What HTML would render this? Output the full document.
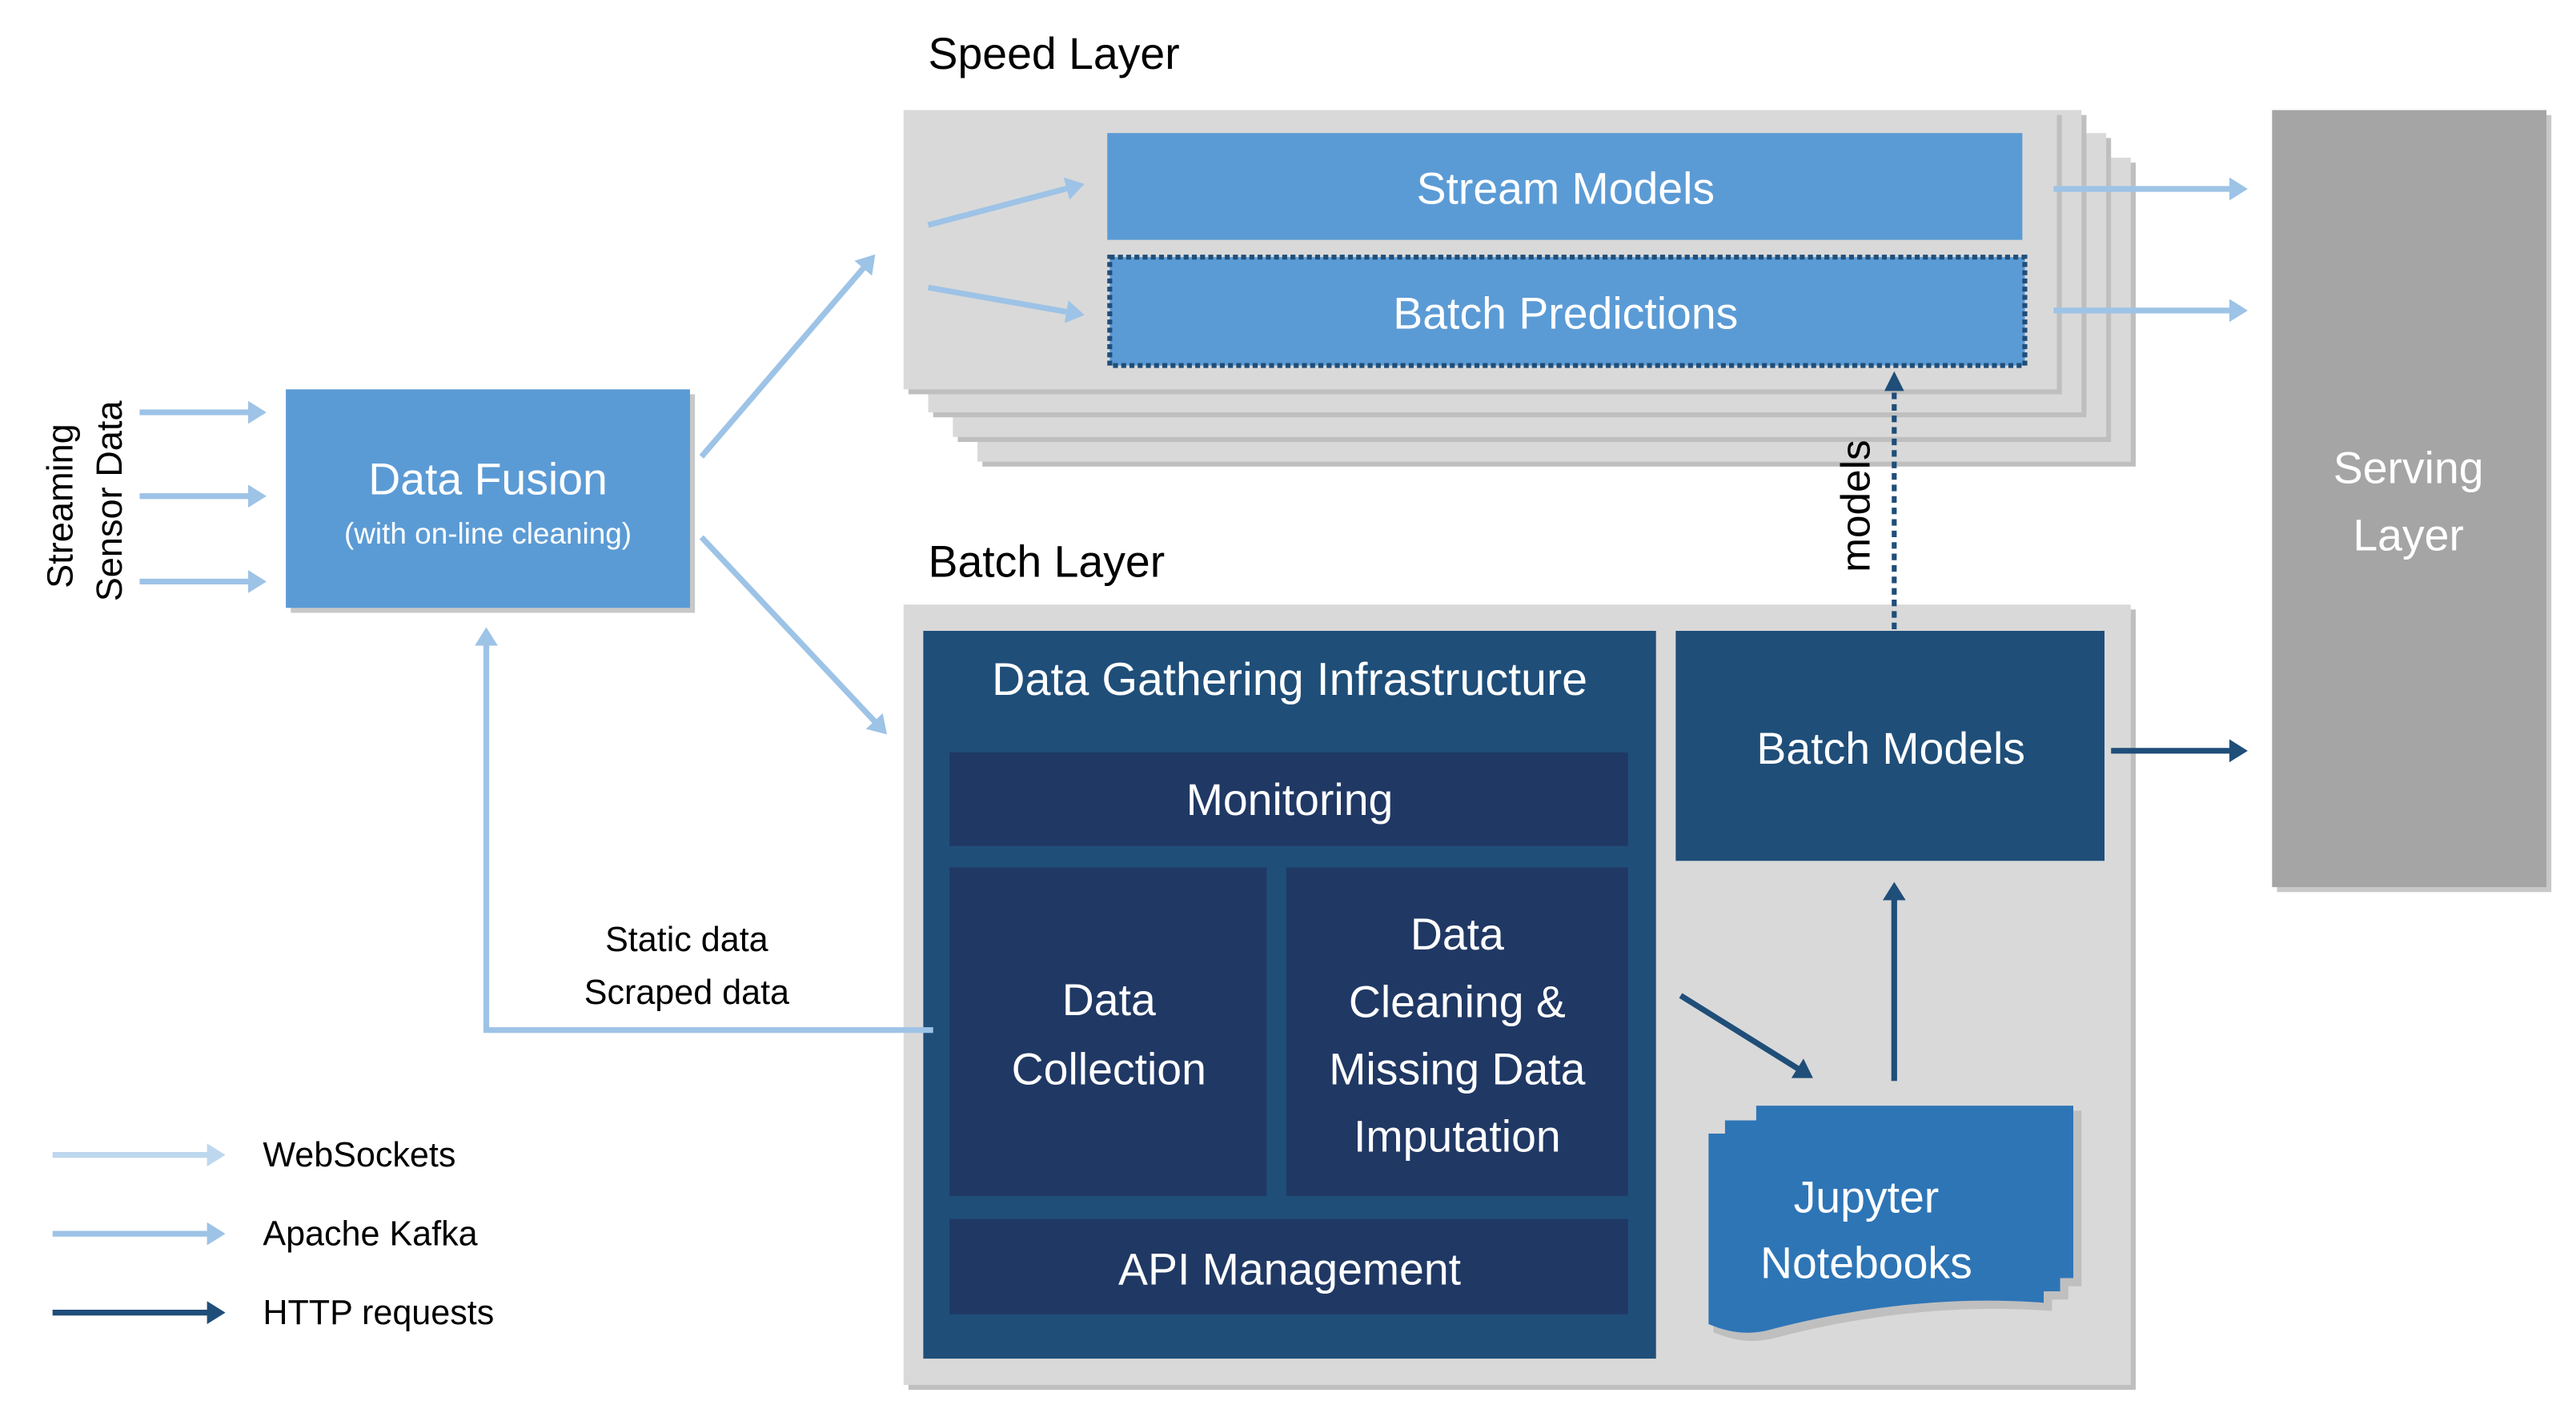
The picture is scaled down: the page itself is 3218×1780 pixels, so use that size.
<!DOCTYPE html>
<html><head><meta charset="utf-8"><style>
html,body{margin:0;padding:0;background:#fff;}
svg{display:block;}
text{font-family:"Liberation Sans",sans-serif;}
</style></head><body>
<svg width="3218" height="1780" viewBox="0 0 1568 867.4" preserveAspectRatio="none" xmlns="http://www.w3.org/2000/svg">
<defs>
<marker id="al" markerWidth="4" markerHeight="4" refX="2" refY="2" orient="auto" markerUnits="strokeWidth"><path d="M0,0 L3.2,2 L0,4 z" fill="#9dc3e6"/></marker>
<marker id="al2" markerWidth="4" markerHeight="4" refX="2" refY="2" orient="auto" markerUnits="strokeWidth"><path d="M0,0 L3.2,2 L0,4 z" fill="#bdd7ee"/></marker>
<marker id="ad" markerWidth="4" markerHeight="4" refX="2" refY="2" orient="auto" markerUnits="strokeWidth"><path d="M0,0 L3.2,2 L0,4 z" fill="#1f4e79"/></marker>
</defs>

<!-- Speed layer -->
<text x="565" y="42" font-size="27" fill="#000">Speed Layer</text>
<rect x="598" y="99" width="702" height="185" fill="#bfbfbf"/>
<rect x="595" y="96" width="702" height="185" fill="#d9d9d9"/>
<rect x="583" y="84" width="702" height="185" fill="#bfbfbf"/>
<rect x="580" y="81" width="702" height="185" fill="#d9d9d9"/>
<rect x="568" y="70" width="702" height="184" fill="#bfbfbf"/>
<rect x="565" y="67" width="702" height="184" fill="#d9d9d9"/>
<rect x="553" y="70" width="702" height="170" fill="#bfbfbf"/>
<rect x="550" y="67" width="702" height="170" fill="#d9d9d9"/>
<rect x="674" y="81" width="557" height="65" fill="#5b9bd5"/>
<text x="953" y="124" font-size="27" fill="#fff" text-anchor="middle">Stream Models</text>
<rect x="675.5" y="156.5" width="557" height="66" fill="#5b9bd5" stroke="#1f4e79" stroke-width="3" stroke-dasharray="3,2"/>
<text x="953" y="200" font-size="27" fill="#fff" text-anchor="middle">Batch Predictions</text>
<line x1="565" y1="137" x2="656" y2="113" stroke="#9dc3e6" stroke-width="3.5" marker-end="url(#al)"/>
<line x1="565" y1="175" x2="656" y2="191" stroke="#9dc3e6" stroke-width="3.5" marker-end="url(#al)"/>
<line x1="1250" y1="115" x2="1364" y2="115" stroke="#9dc3e6" stroke-width="3.5" marker-end="url(#al)"/>
<line x1="1250" y1="189" x2="1364" y2="189" stroke="#9dc3e6" stroke-width="3.5" marker-end="url(#al)"/>

<!-- Serving -->
<rect x="1386" y="70" width="167" height="473" fill="#c8c8c8"/>
<rect x="1383" y="67" width="167" height="473" fill="#a5a5a5"/>
<text x="1466" y="294" font-size="27" fill="#fff" text-anchor="middle">Serving</text>
<text x="1466" y="335" font-size="27" fill="#fff" text-anchor="middle">Layer</text>

<!-- Batch layer -->
<text x="565" y="351" font-size="27" fill="#000">Batch Layer</text>
<rect x="553" y="371" width="747" height="475" fill="#bfbfbf"/>
<rect x="550" y="368" width="747" height="475" fill="#d9d9d9"/>
<rect x="562" y="384" width="446" height="443" fill="#1f4e79"/>
<text x="785" y="423" font-size="28" fill="#fff" text-anchor="middle">Data Gathering Infrastructure</text>
<rect x="578" y="458" width="413" height="57" fill="#203864"/>
<text x="785" y="496" font-size="27" fill="#fff" text-anchor="middle">Monitoring</text>
<rect x="578" y="528" width="193" height="200" fill="#203864"/>
<text x="675" y="618" font-size="27" fill="#fff" text-anchor="middle">Data</text>
<text x="675" y="660" font-size="27" fill="#fff" text-anchor="middle">Collection</text>
<rect x="783" y="528" width="208" height="200" fill="#203864"/>
<text x="887" y="578" font-size="27" fill="#fff" text-anchor="middle">Data</text>
<text x="887" y="619" font-size="27" fill="#fff" text-anchor="middle">Cleaning &amp;</text>
<text x="887" y="660" font-size="27" fill="#fff" text-anchor="middle">Missing Data</text>
<text x="887" y="701" font-size="27" fill="#fff" text-anchor="middle">Imputation</text>
<rect x="578" y="742" width="413" height="58" fill="#203864"/>
<text x="785" y="782" font-size="27" fill="#fff" text-anchor="middle">API Management</text>

<rect x="1020" y="384" width="261" height="140" fill="#1f4e79"/>
<text x="1151" y="465" font-size="27" fill="#fff" text-anchor="middle">Batch Models</text>
<line x1="1153" y1="383" x2="1153" y2="236" stroke="#1f4e79" stroke-width="3" stroke-dasharray="4,3"/>
<path d="M1147,238 L1153,226 L1159,238 z" fill="#1f4e79"/>
<text transform="translate(1138,308) rotate(-90)" font-size="25" fill="#000" text-anchor="middle">models</text>
<line x1="1285" y1="457" x2="1364" y2="457" stroke="#1f4e79" stroke-width="3.5" marker-end="url(#ad)"/>
<line x1="1023" y1="606" x2="1100" y2="654" stroke="#1f4e79" stroke-width="3.5" marker-end="url(#ad)"/>
<line x1="1153" y1="658" x2="1153" y2="541" stroke="#1f4e79" stroke-width="3.5" marker-end="url(#ad)"/>

<!-- Jupyter -->
<path d="M1069,673 L1264,673 L1264,780 L1256,780 L1256,788 L1246,788 L1246,795 C1180,790 1120,800 1075,812 C1060,815 1050,812 1040,808 L1040,690 L1050,690 L1050,682 L1069,682 z" fill="#bfbfbf" transform="translate(3,3)"/>
<path d="M1069,673 L1262,673 L1262,778 L1254,778 L1254,786 L1244,786 L1244,793 C1180,788 1120,798 1075,810 C1060,813 1050,810 1040,806 L1040,690 L1050,690 L1050,682 L1069,682 z" fill="#2e75b6"/>
<text x="1136" y="738" font-size="27" fill="#fff" text-anchor="middle">Jupyter</text>
<text x="1136" y="778" font-size="27" fill="#fff" text-anchor="middle">Notebooks</text>

<!-- Data fusion -->
<rect x="177" y="240" width="246" height="133" fill="#c8c8c8"/>
<rect x="174" y="237" width="246" height="133" fill="#5b9bd5"/>
<text x="297" y="301" font-size="27" fill="#fff" text-anchor="middle">Data Fusion</text>
<text x="297" y="331" font-size="18" fill="#fff" text-anchor="middle">(with on-line cleaning)</text>
<line x1="85" y1="251" x2="158" y2="251" stroke="#9dc3e6" stroke-width="3.5" marker-end="url(#al)"/>
<line x1="85" y1="302" x2="158" y2="302" stroke="#9dc3e6" stroke-width="3.5" marker-end="url(#al)"/>
<line x1="85" y1="354" x2="158" y2="354" stroke="#9dc3e6" stroke-width="3.5" marker-end="url(#al)"/>
<text transform="translate(44,308) rotate(-90)" font-size="22" fill="#000" text-anchor="middle">Streaming</text>
<text transform="translate(74,305) rotate(-90)" font-size="22" fill="#000" text-anchor="middle">Sensor Data</text>
<line x1="427" y1="278" x2="530" y2="158" stroke="#9dc3e6" stroke-width="3.5" marker-end="url(#al)"/>
<line x1="427" y1="327" x2="537" y2="444" stroke="#9dc3e6" stroke-width="3.5" marker-end="url(#al)"/>
<polyline points="568,627 296,627 296,386" fill="none" stroke="#9dc3e6" stroke-width="3.5" marker-end="url(#al)"/>
<text x="418" y="579" font-size="21" fill="#000" text-anchor="middle">Static data</text>
<text x="418" y="611" font-size="21" fill="#000" text-anchor="middle">Scraped data</text>

<!-- Legend -->
<line x1="32" y1="703" x2="133" y2="703" stroke="#bdd7ee" stroke-width="3.5" marker-end="url(#al2)"/>
<line x1="32" y1="751" x2="133" y2="751" stroke="#9dc3e6" stroke-width="3.5" marker-end="url(#al)"/>
<line x1="32" y1="799" x2="133" y2="799" stroke="#1f4e79" stroke-width="3.5" marker-end="url(#ad)"/>
<text x="160" y="710" font-size="21" fill="#000">WebSockets</text>
<text x="160" y="758" font-size="21" fill="#000">Apache Kafka</text>
<text x="160" y="806" font-size="21" fill="#000">HTTP requests</text>
</svg>
</body></html>
